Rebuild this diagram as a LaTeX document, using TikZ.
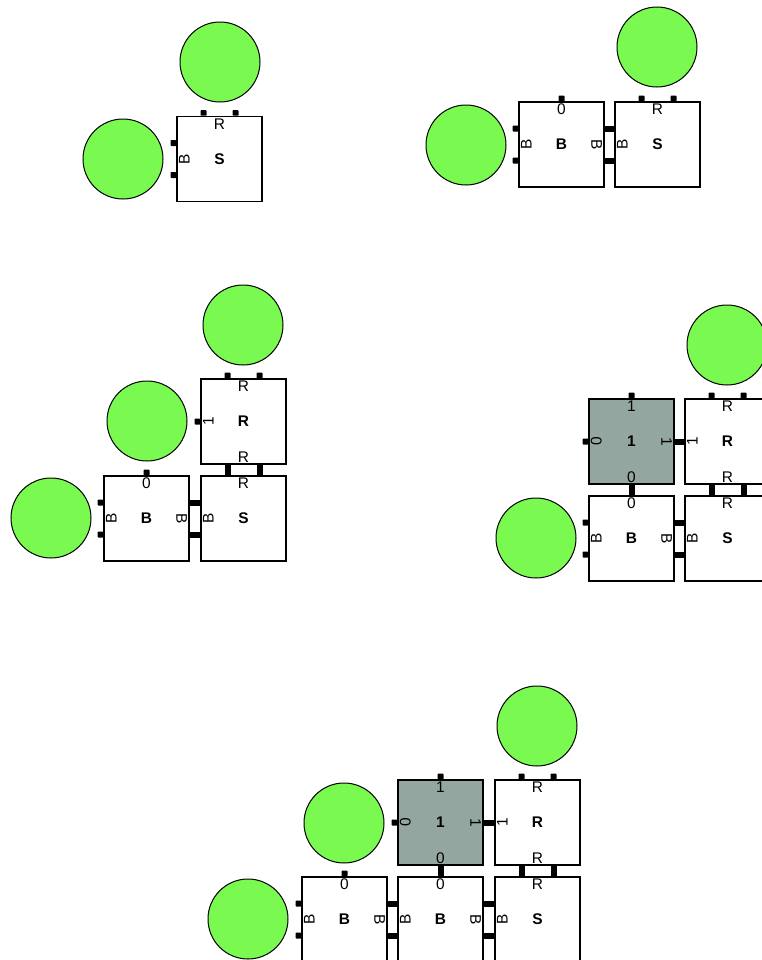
\documentclass[tikz,border=0pt]{standalone}
\usepackage{fontspec}
\setmainfont{Liberation Sans}
\usetikzlibrary{positioning}
\definecolor{slotgreen}{RGB}{122,250,80}
\definecolor{seedgray}{RGB}{147,166,160}
\tikzset{
  tilebox/.style={draw, line width=1.2bp, fill=white, minimum size=85bp,
    inner sep=0pt, font=\fontsize{15.5}{17}\selectfont\bfseries},
  seedbox/.style={tilebox, fill=seedgray},
  gluelab/.style={inner sep=0pt, font=\fontsize{15.5}{17}\selectfont},
  tabN/.style={fill=black, rounded corners=0.7bp, anchor=south,
    minimum width=6bp, minimum height=5.5bp, inner sep=0pt},
  tabW/.style={fill=black, rounded corners=0.7bp, anchor=east,
    minimum width=5.5bp, minimum height=6bp, inner sep=0pt},
  bond/.style={line width=6bp, black},
  slot/.style={circle, draw, line width=1bp, fill=slotgreen,
    minimum size=80bp, inner sep=0pt},
}

\begin{document}
\begin{tikzpicture}[x=1bp, y=-1bp]
  \useasboundingbox (0,0) rectangle (762,960);

  % Step 1: seed S alone
  \node[slot] at (220,62)  (c1a) {};
  \node[slot] at (123,159) (c1b) {};
  \node[tilebox] at (219.5,159) (S1) {S};
  \node[gluelab] at ([yshift=-8bp]S1.north) (S1n) {R};
  \node[gluelab, rotate=90] at ([xshift=8bp]S1.west) (S1w) {B};
  \node[tabN] at ([xshift=-16bp]S1.north) (S1t1) {};
  \node[tabN] at ([xshift=16bp]S1.north)  (S1t2) {};
  \node[tabW] at ([yshift=16bp]S1.west)   (S1t3) {};
  \node[tabW] at ([yshift=-16bp]S1.west)  (S1t4) {};

  % Step 2: B attached west of S
  \node[slot] at (657,47)  (c2a) {};
  \node[slot] at (466,145) (c2b) {};
  \node[tilebox] at (561.5,144.5) (B2) {B};
  \node[tilebox] at (657.5,144.5) (S2) {S};
  \node[gluelab] at ([yshift=-8bp]B2.north) (B2n) {0};
  \node[gluelab, rotate=90] at ([xshift=8bp]B2.west) (B2w) {B};
  \node[gluelab, rotate=-90] at ([xshift=-8bp]B2.east) (B2e) {B};
  \node[gluelab] at ([yshift=-8bp]S2.north) (S2n) {R};
  \node[gluelab, rotate=90] at ([xshift=8bp]S2.west) (S2w) {B};
  \node[tabN] at (B2.north) (B2t1) {};
  \node[tabW] at ([yshift=16bp]B2.west)   (B2t2) {};
  \node[tabW] at ([yshift=-16bp]B2.west)  (B2t3) {};
  \node[tabN] at ([xshift=-16bp]S2.north) (S2t1) {};
  \node[tabN] at ([xshift=16bp]S2.north)  (S2t2) {};
  \draw[bond] ([yshift=16bp]B2.east)  -- ([yshift=16bp]S2.west);
  \draw[bond] ([yshift=-16bp]B2.east) -- ([yshift=-16bp]S2.west);

  % Step 3: R attached north of S
  \node[slot] at (243,325) (c3a) {};
  \node[slot] at (147,421) (c3b) {};
  \node[slot] at (51,518)  (c3c) {};
  \node[tilebox] at (243.5,421.5) (R3) {R};
  \node[tilebox] at (146.5,518.5) (B3) {B};
  \node[tilebox] at (243.5,518.5) (S3) {S};
  \node[gluelab] at ([yshift=-8bp]R3.north) (R3n) {R};
  \node[gluelab, rotate=90] at ([xshift=8bp]R3.west) (R3w) {1};
  \node[gluelab] at ([yshift=7bp]R3.south) (R3s) {R};
  \node[gluelab] at ([yshift=-8bp]B3.north) (B3n) {0};
  \node[gluelab, rotate=90] at ([xshift=8bp]B3.west) (B3w) {B};
  \node[gluelab, rotate=-90] at ([xshift=-8bp]B3.east) (B3e) {B};
  \node[gluelab] at ([yshift=-8bp]S3.north) (S3n) {R};
  \node[gluelab, rotate=90] at ([xshift=8bp]S3.west) (S3w) {B};
  \node[tabN] at ([xshift=-16bp]R3.north) (R3t1) {};
  \node[tabN] at ([xshift=16bp]R3.north)  (R3t2) {};
  \node[tabW] at (R3.west) (R3t3) {};
  \node[tabN] at (B3.north) (B3t1) {};
  \node[tabW] at ([yshift=16bp]B3.west)   (B3t2) {};
  \node[tabW] at ([yshift=-16bp]B3.west)  (B3t3) {};
  \draw[bond] ([xshift=-16bp]R3.south) -- ([xshift=-16bp]S3.north);
  \draw[bond] ([xshift=16bp]R3.south)  -- ([xshift=16bp]S3.north);
  \draw[bond] ([yshift=16bp]B3.east)   -- ([yshift=16bp]S3.west);
  \draw[bond] ([yshift=-16bp]B3.east)  -- ([yshift=-16bp]S3.west);

  % Step 4: tile 1 fills the corner
  \node[slot] at (727,345) (c4a) {};
  \node[slot] at (536,538) (c4b) {};
  \node[seedbox] at (631.5,441.5) (G4) {1};
  \node[tilebox] at (727.5,441.5) (R4) {R};
  \node[tilebox] at (631.5,538.5) (B4) {B};
  \node[tilebox] at (727.5,538.5) (S4) {S};
  \node[gluelab] at ([yshift=-8bp]G4.north) (G4n) {1};
  \node[gluelab, rotate=90] at ([xshift=8bp]G4.west) (G4w) {0};
  \node[gluelab, rotate=-90] at ([xshift=-8bp]G4.east) (G4e) {1};
  \node[gluelab] at ([yshift=7bp]G4.south) (G4s) {0};
  \node[gluelab] at ([yshift=-8bp]R4.north) (R4n) {R};
  \node[gluelab, rotate=90] at ([xshift=8bp]R4.west) (R4w) {1};
  \node[gluelab] at ([yshift=7bp]R4.south) (R4s) {R};
  \node[gluelab] at ([yshift=-8bp]B4.north) (B4n) {0};
  \node[gluelab, rotate=90] at ([xshift=8bp]B4.west) (B4w) {B};
  \node[gluelab, rotate=-90] at ([xshift=-8bp]B4.east) (B4e) {B};
  \node[gluelab] at ([yshift=-8bp]S4.north) (S4n) {R};
  \node[gluelab, rotate=90] at ([xshift=8bp]S4.west) (S4w) {B};
  \node[tabN] at (G4.north) (G4t1) {};
  \node[tabW] at (G4.west)  (G4t2) {};
  \node[tabN] at ([xshift=-16bp]R4.north) (R4t1) {};
  \node[tabN] at ([xshift=16bp]R4.north)  (R4t2) {};
  \node[tabW] at ([yshift=16bp]B4.west)   (B4t1) {};
  \node[tabW] at ([yshift=-16bp]B4.west)  (B4t2) {};
  \draw[bond] (G4.east)  -- (R4.west);
  \draw[bond] (G4.south) -- (B4.north);
  \draw[bond] ([xshift=-16bp]R4.south) -- ([xshift=-16bp]S4.north);
  \draw[bond] ([xshift=16bp]R4.south)  -- ([xshift=16bp]S4.north);
  \draw[bond] ([yshift=16bp]B4.east)   -- ([yshift=16bp]S4.west);
  \draw[bond] ([yshift=-16bp]B4.east)  -- ([yshift=-16bp]S4.west);

  % Step 5: second B on the bottom row
  \node[slot] at (537,726) (c5a) {};
  \node[slot] at (344,823) (c5b) {};
  \node[slot] at (248,919) (c5c) {};
  \node[seedbox] at (440.5,822.5) (G5) {1};
  \node[tilebox] at (537.5,822.5) (R5) {R};
  \node[tilebox] at (344.5,919.5) (B5a) {B};
  \node[tilebox] at (440.5,919.5) (B5b) {B};
  \node[tilebox] at (537.5,919.5) (S5) {S};
  \node[gluelab] at ([yshift=-8bp]G5.north) (G5n) {1};
  \node[gluelab, rotate=90] at ([xshift=8bp]G5.west) (G5w) {0};
  \node[gluelab, rotate=-90] at ([xshift=-8bp]G5.east) (G5e) {1};
  \node[gluelab] at ([yshift=7bp]G5.south) (G5s) {0};
  \node[gluelab] at ([yshift=-8bp]R5.north) (R5n) {R};
  \node[gluelab, rotate=90] at ([xshift=8bp]R5.west) (R5w) {1};
  \node[gluelab] at ([yshift=7bp]R5.south) (R5s) {R};
  \node[gluelab] at ([yshift=-8bp]B5a.north) (B5an) {0};
  \node[gluelab, rotate=90] at ([xshift=8bp]B5a.west) (B5aw) {B};
  \node[gluelab, rotate=-90] at ([xshift=-8bp]B5a.east) (B5ae) {B};
  \node[gluelab] at ([yshift=-8bp]B5b.north) (B5bn) {0};
  \node[gluelab, rotate=90] at ([xshift=8bp]B5b.west) (B5bw) {B};
  \node[gluelab, rotate=-90] at ([xshift=-8bp]B5b.east) (B5be) {B};
  \node[gluelab] at ([yshift=-8bp]S5.north) (S5n) {R};
  \node[gluelab, rotate=90] at ([xshift=8bp]S5.west) (S5w) {B};
  \node[tabN] at (G5.north) (G5t1) {};
  \node[tabW] at (G5.west)  (G5t2) {};
  \node[tabN] at ([xshift=-16bp]R5.north) (R5t1) {};
  \node[tabN] at ([xshift=16bp]R5.north)  (R5t2) {};
  \node[tabN] at (B5a.north) (B5at1) {};
  \node[tabW] at ([yshift=16bp]B5a.west)  (B5at2) {};
  \node[tabW] at ([yshift=-16bp]B5a.west) (B5at3) {};
  \draw[bond] (G5.east)  -- (R5.west);
  \draw[bond] (G5.south) -- (B5b.north);
  \draw[bond] ([xshift=-16bp]R5.south) -- ([xshift=-16bp]S5.north);
  \draw[bond] ([xshift=16bp]R5.south)  -- ([xshift=16bp]S5.north);
  \draw[bond] ([yshift=16bp]B5a.east)  -- ([yshift=16bp]B5b.west);
  \draw[bond] ([yshift=-16bp]B5a.east) -- ([yshift=-16bp]B5b.west);
  \draw[bond] ([yshift=16bp]B5b.east)  -- ([yshift=16bp]S5.west);
  \draw[bond] ([yshift=-16bp]B5b.east) -- ([yshift=-16bp]S5.west);
\end{tikzpicture}
\end{document}
